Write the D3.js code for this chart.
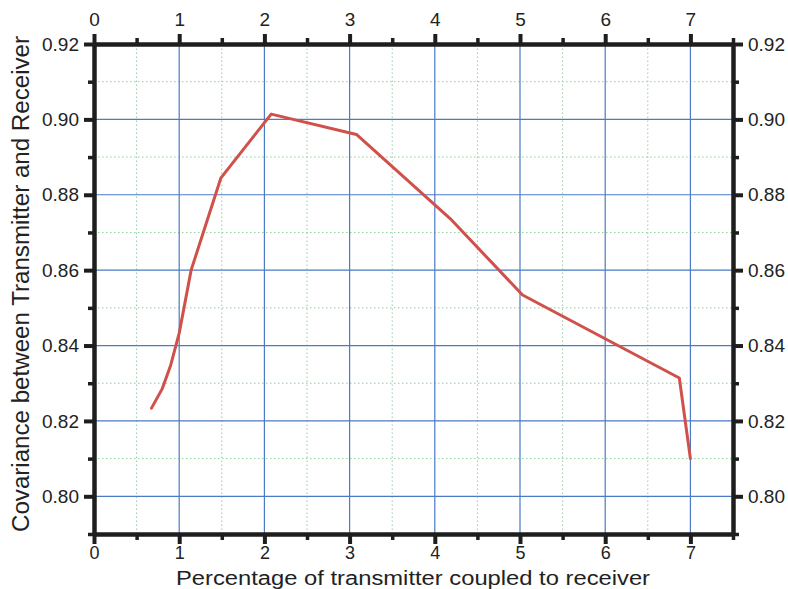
<!DOCTYPE html>
<html>
<head>
<meta charset="utf-8">
<script src="https://cdn.jsdelivr.net/npm/d3@7"></script>
<style>
  html, body { margin: 0; padding: 0; background: #fff; }
  svg { display: block; }
  text { font-family: "Liberation Sans", Arial, Helvetica, sans-serif; fill: #222; }
</style>
</head>
<body>
<script>
// Coupling percentage vs. transmitter/receiver covariance
const couplingPct = [0.675, 0.80, 0.90, 1.00, 1.14, 1.49, 2.08, 3.08, 4.18, 5.03, 6.87, 7.00];
const covariance  = [0.8234, 0.8285, 0.8348, 0.8433, 0.8600, 0.8845, 0.9014, 0.8960, 0.8737, 0.8534, 0.8314, 0.8100];

const xMajorTicks = [0, 1, 2, 3, 4, 5, 6, 7];
const xMinorTicks = [0.5, 1.5, 2.5, 3.5, 4.5, 5.5, 6.5, 7.5];
const yMajorTicks = [0.80, 0.82, 0.84, 0.86, 0.88, 0.90, 0.92];
const yMinorTicks = [0.79, 0.81, 0.83, 0.85, 0.87, 0.89, 0.91];

const xTitle = "Percentage of transmitter coupled to receiver";
const yTitle = "Covariance between Transmitter and Receiver";

const W = 788, H = 589;
const m = { left: 94, right: 55, top: 44, bottom: 55 };

const svg = d3.select("body").append("svg").attr("width", W).attr("height", H);

const x = d3.scaleLinear().domain([0, 7.5]).range([m.left, W - m.right]);
const y = d3.scaleLinear().domain([0.79, 0.92]).range([H - m.bottom, m.top]);

// grid: minor dotted green, major solid blue
const grid = svg.append("g");
grid.selectAll("line.vminor").data(xMinorTicks.filter(d => d < 7.5)).join("line")
  .attr("x1", d => x(d)).attr("x2", d => x(d)).attr("y1", y(0.79)).attr("y2", y(0.92))
  .attr("stroke", "#8fcf9a").attr("stroke-width", 1).attr("stroke-dasharray", "1.5,2.5");
grid.selectAll("line.hminor").data(yMinorTicks.filter(d => d > 0.79)).join("line")
  .attr("x1", x(0)).attr("x2", x(7.5)).attr("y1", d => y(d)).attr("y2", d => y(d))
  .attr("stroke", "#8fcf9a").attr("stroke-width", 1).attr("stroke-dasharray", "1.5,2.5");
grid.selectAll("line.vmajor").data(xMajorTicks.filter(d => d > 0)).join("line")
  .attr("x1", d => x(d)).attr("x2", d => x(d)).attr("y1", y(0.79)).attr("y2", y(0.92))
  .attr("stroke", "#4a7bc4").attr("stroke-width", 1.2);
grid.selectAll("line.hmajor").data(yMajorTicks.filter(d => d < 0.92)).join("line")
  .attr("x1", x(0)).attr("x2", x(7.5)).attr("y1", d => y(d)).attr("y2", d => y(d))
  .attr("stroke", "#4a7bc4").attr("stroke-width", 1.2);

// data line
const line = d3.line().x(d => x(d[0])).y(d => y(d[1]));
svg.append("path")
  .datum(couplingPct.map((v, i) => [v, covariance[i]]))
  .attr("d", line)
  .attr("fill", "none")
  .attr("stroke", "#d0504a")
  .attr("stroke-width", 3)
  .attr("stroke-linejoin", "round")
  .attr("stroke-linecap", "round");

// axes on all four sides
function styleAxis(g, fs) {
  g.select(".domain").attr("stroke", "#1e1e1e").attr("stroke-width", 4);
  g.selectAll(".tick line").attr("stroke", "#1e1e1e").attr("stroke-width", 4);
  g.selectAll(".tick text").attr("font-size", fs).attr("fill", "#222");
}

const fmtY = d3.format(".2f");
const axes = [
  { ax: d3.axisBottom(x), tr: `translate(0,${y(0.79)})`, maj: xMajorTicks, min: xMinorTicks, fmt: d3.format("d"), pad: 2, fs: 18 },
  { ax: d3.axisTop(x),    tr: `translate(0,${y(0.92)})`, maj: xMajorTicks, min: xMinorTicks, fmt: d3.format("d"), pad: 8, fs: 19 },
  { ax: d3.axisLeft(y),   tr: `translate(${x(0)},0)`,    maj: yMajorTicks, min: yMinorTicks, fmt: fmtY, pad: 5, fs: 19 },
  { ax: d3.axisRight(y),  tr: `translate(${x(7.5)},0)`,  maj: yMajorTicks, min: yMinorTicks, fmt: fmtY, pad: 5, fs: 19 }
];
axes.forEach(a => {
  // minor ticks
  const gmin = svg.append("g").attr("transform", a.tr)
    .call(a.ax.tickValues(a.min).tickFormat("").tickSize(6).tickSizeOuter(0));
  styleAxis(gmin, a.fs);
  gmin.selectAll(".tick line").attr("stroke-width", 3.5);
  // major ticks + labels
  const gmaj = svg.append("g").attr("transform", a.tr)
    .call(a.ax.tickValues(a.maj).tickFormat(a.fmt).tickSize(10).tickSizeOuter(0).tickPadding(a.pad));
  styleAxis(gmaj, a.fs);
});

// axis titles
svg.append("text")
  .attr("x", 413).attr("y", 584.5)
  .attr("text-anchor", "middle")
  .attr("font-size", 20)
  .attr("textLength", 474).attr("lengthAdjust", "spacingAndGlyphs")
  .text(xTitle);

svg.append("text")
  .attr("transform", `translate(29,284) rotate(-90)`)
  .attr("text-anchor", "middle")
  .attr("font-size", 23)
  .attr("textLength", 496).attr("lengthAdjust", "spacingAndGlyphs")
  .text(yTitle);
</script>
</body>
</html>
